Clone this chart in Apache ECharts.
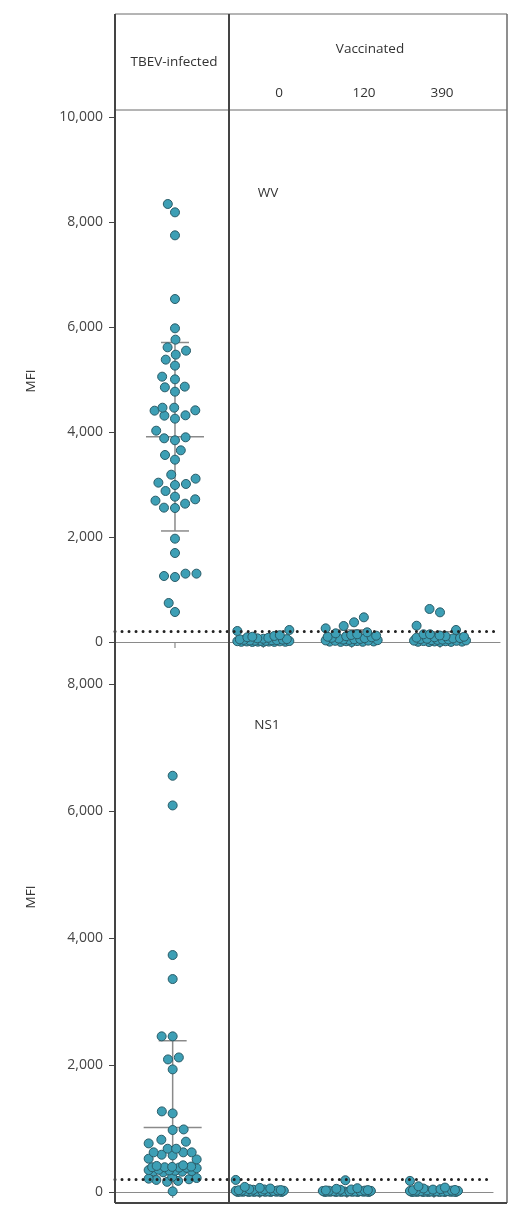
<!DOCTYPE html>
<html><head><meta charset="utf-8">
<script src="https://cdn.jsdelivr.net/npm/echarts@6/dist/echarts.min.js"></script>
<style>html,body{margin:0;padding:0;background:#fff}#c{width:527px;height:1227px}</style>
</head><body><div id="c"></div>
<script>
// ---- data ----
const groups = ['TBEV-infected', '0', '120', '390'];
const headerTitle = 'Vaccinated';
const panelNames = ['WV', 'NS1'];
const yName = 'MFI';
const cutoff = 200;
const wvTicks = [0, 2000, 4000, 6000, 8000, 10000];
const ns1Ticks = [0, 2000, 4000, 6000, 8000];

const wvTBEV = [8343, 8184, 7746, 6533, 5975, 5759, 5613, 5549, 5473, 5378, 5264, 5054, 5003, 4864, 4851, 4768,
  4463, 4463, 4413, 4406, 4318, 4311, 4254, 4025, 3899, 3880, 3842, 3651, 3562, 3473, 3187, 3111, 3035, 3010,
  2990, 2876, 2768, 2718, 2692, 2635, 2559, 2552, 1968, 1695, 1302, 1302, 1257, 1238, 743, 571];
const wvVac0 = [229, 210, 130, 115, 100, 90, 80, 70, 62, 55, 50, 45, 40, 36, 32, 28, 25, 22, 20, 18, 15, 12, 10, 8, 6, 4, 3, 2, 1, 0];
const wvVac120 = [470, 375, 305, 260, 185, 165, 147, 133, 120, 110, 100, 90, 80, 72, 65, 58, 52, 46, 40, 35, 30, 26, 22, 18, 14, 10, 7, 4, 2, 0];
const wvVac390 = [629, 565, 310, 229, 147, 147, 125, 110, 100, 90, 82, 75, 68, 62, 56, 50, 45, 40, 35, 30, 26, 22, 18, 14, 10, 7, 4, 2, 0, 0];

const ns1TBEV = [6552, 6085, 3730, 3352, 2450, 2450, 2118, 2087, 1930, 1269, 1237, 985, 976, 823, 792, 765,
  681, 624, 587, 576, 624, 624, 681, 513, 524,
  420, 400, 395, 390, 385, 380, 375, 390, 410,
  350, 340, 330, 325, 320, 310, 335, 345,
  240, 220, 200, 190, 175, 160, 210, 10];
const ns1Vac0 = [190, 80, 65, 55, 45, 40, 35, 30, 28, 25, 22, 20, 18, 15, 14, 12, 10, 9, 8, 6, 5, 4, 3, 2, 1, 0, 0, 0, 0, 0];
const ns1Vac120 = [185, 60, 50, 40, 35, 30, 25, 22, 20, 18, 16, 14, 12, 10, 9, 8, 7, 6, 5, 4, 3, 2, 1, 0, 0, 0, 0, 0];
const ns1Vac390 = [175, 90, 70, 55, 45, 38, 32, 28, 25, 22, 20, 18, 16, 14, 12, 10, 8, 6, 5, 4, 3, 2, 1, 0, 0, 0, 0, 0, 0, 0];

const wvMean = [3910, 50, 95, 85];
const wvSD = [1795, 60, 135, 110];
const ns1Mean = [1017, 20, 15, 20];
const ns1SD = [1364, 35, 35, 35];

// ---- layout ----
const P = [
  { left: 115, top: 117, width: 385, height: 525, xMin: -0.679, xMax: 3.679, yMax: 10000 },
  { left: 115, top: 652, width: 378, height: 540, xMin: -0.662, xMax: 3.678, yMax: 8500 }
];
const FONT = 'Open Sans';
const PT_FILL = '#3d9fb5', PT_BORDER = '#2a5c68';
const SYM = 9, DIAM = 11, HALFW = [26, 24];

function swarm(vals, yScale, d, W) {
  const pts = vals.map(v => ({ v, y: v * yScale })).sort((a, b) => a.v - b.v);
  const placed = [];
  for (const p of pts) {
    const cands = [0];
    for (const q of placed) {
      const dy = p.y - q.y;
      if (Math.abs(dy) < d) {
        const dx = Math.sqrt(d * d - dy * dy);
        cands.push(q.x + dx + 0.01, q.x - dx - 0.01);
      }
    }
    cands.sort((a, b) => Math.abs(a) - Math.abs(b) || a - b);
    let best = null;
    for (const c of cands) {
      if (Math.abs(c) > W) break;
      if (placed.every(q => (q.x - c) ** 2 + (q.y - p.y) ** 2 >= d * d - 0.1)) { best = c; break; }
    }
    if (best === null) {
      let bs = -1;
      for (let c = -W; c <= W + 1e-6; c += 0.5) {
        let m = Infinity;
        for (const q of placed) m = Math.min(m, (q.x - c) ** 2 + (q.y - p.y) ** 2);
        if (m > bs + 1e-6) { bs = m; best = c; }
      }
    }
    p.x = best; placed.push(p);
  }
  return placed;
}

function swarmData(panel, lists, W) {
  const pxX = panel.width / (panel.xMax - panel.xMin);
  const pxY = panel.height / panel.yMax;
  const out = [];
  lists.forEach((vals, gi) => {
    swarm(vals, pxY, DIAM, W).forEach(p => out.push([gi + p.x / pxX, p.v]));
  });
  return out;
}

const wvPoints = swarmData(P[0], [wvTBEV, wvVac0, wvVac120, wvVac390], HALFW[0]);
const ns1Points = swarmData(P[1], [ns1TBEV, ns1Vac0, ns1Vac120, ns1Vac390], HALFW[1]);

function errData(means, sds) { return means.map((m, i) => [i, m, sds[i]]); }

function renderErr(params, api) {
  const i = api.value(0), m = api.value(1), s = api.value(2);
  const c = api.coord([i, m]);
  const top = api.coord([i, m + s]);
  const lowV = Math.max(m - s, 0);
  const bot = api.coord([i, lowV]);
  const zero = api.coord([i, 0]);
  const st = { stroke: '#8a8a8a', lineWidth: 1.5 };
  const ch = [
    { type: 'line', shape: { x1: c[0] - 29, y1: c[1], x2: c[0] + 29, y2: c[1] }, style: st },
    { type: 'line', shape: { x1: c[0], y1: top[1], x2: c[0], y2: bot[1] }, style: st },
    { type: 'line', shape: { x1: c[0] - 14, y1: top[1], x2: c[0] + 14, y2: top[1] }, style: st },
    { type: 'line', shape: { x1: zero[0], y1: zero[1], x2: zero[0], y2: zero[1] + 6 }, style: { stroke: '#8a8a8a', lineWidth: 1.2 } }
  ];
  if (m - s > 0) ch.push({ type: 'line', shape: { x1: c[0] - 14, y1: bot[1], x2: c[0] + 14, y2: bot[1] }, style: st });
  return { type: 'group', children: ch };
}

const yLabel = { color: '#444', fontSize: 14, fontFamily: FONT, margin: 12, formatter: v => v.toLocaleString('en-US') };
const markCut = {
  silent: true, symbol: 'none', label: { show: false },
  lineStyle: { color: '#222', width: 3, type: [0.01, 7], cap: 'round' },
  data: [{ yAxis: cutoff }]
};

const line = (x1, y1, x2, y2, stroke, w) => ({ type: 'line', shape: { x1, y1, x2, y2 }, style: { stroke, lineWidth: w }, z: 100 });
const txt = (x, y, t, extra) => Object.assign({ type: 'text', x, y, style: { text: t, fill: '#333', font: '13.5px "' + FONT + '"', textAlign: 'center', textVerticalAlign: 'middle' }, z: 100 }, extra || {});

const chart = echarts.init(document.getElementById('c'), null, { renderer: 'canvas' });
chart.setOption({
  animation: false,
  backgroundColor: '#fff',
  grid: P.map(p => ({ left: p.left, top: p.top, width: p.width, height: p.height })),
  xAxis: P.map((p, i) => ({
    type: 'value', gridIndex: i, min: p.xMin, max: p.xMax,
    axisLine: { show: true, onZero: false, lineStyle: { color: '#8a8a8a', width: 1.2 } },
    axisTick: { show: false }, axisLabel: { show: false }, splitLine: { show: false }
  })),
  yAxis: [
    { type: 'value', gridIndex: 0, min: 0, max: P[0].yMax, interval: 2000,
      axisLine: { show: false, onZero: false }, axisTick: { show: true, length: 6, lineStyle: { color: '#444' } },
      axisLabel: yLabel, splitLine: { show: false } },
    { type: 'value', gridIndex: 1, min: 0, max: P[1].yMax,
      axisLine: { show: false, onZero: false },
      axisTick: { show: true, length: 6, lineStyle: { color: '#444' }, customValues: ns1Ticks },
      axisLabel: Object.assign({}, yLabel, { customValues: ns1Ticks }), splitLine: { show: false } }
  ],
  series: [
    { type: 'custom', xAxisIndex: 0, yAxisIndex: 0, clip: false, z: 1, renderItem: renderErr, data: errData(wvMean, wvSD) },
    { type: 'custom', xAxisIndex: 1, yAxisIndex: 1, clip: false, z: 1, renderItem: renderErr, data: errData(ns1Mean, ns1SD) },
    { type: 'scatter', xAxisIndex: 0, yAxisIndex: 0, clip: false, z: 3, symbolSize: SYM,
      itemStyle: { color: PT_FILL, borderColor: PT_BORDER, borderWidth: 1, opacity: 1 }, data: wvPoints, markLine: markCut },
    { type: 'scatter', xAxisIndex: 1, yAxisIndex: 1, clip: false, z: 3, symbolSize: SYM,
      itemStyle: { color: PT_FILL, borderColor: PT_BORDER, borderWidth: 1, opacity: 1 }, data: ns1Points, markLine: markCut }
  ],
  graphic: [
    line(115, 14, 507, 14, '#6a6a6a', 1),
    line(115, 110, 507, 110, '#6a6a6a', 1),
    line(115, 14, 115, 1203, '#444', 2),
    line(229, 14, 229, 1203, '#444', 2),
    line(507, 14, 507, 1203, '#6a6a6a', 1.5),
    line(115, 1203, 507, 1203, '#444', 2),
    txt(174, 62, groups[0]),
    txt(370, 49, headerTitle),
    txt(279, 93, groups[1]),
    txt(364, 93, groups[2]),
    txt(442, 93, groups[3]),
    txt(268, 193, panelNames[0]),
    txt(267, 725, panelNames[1]),
    txt(31, 381, yName, { rotation: Math.PI / 2 }),
    txt(31, 897, yName, { rotation: Math.PI / 2 })
  ]
});
</script>
</body></html>
